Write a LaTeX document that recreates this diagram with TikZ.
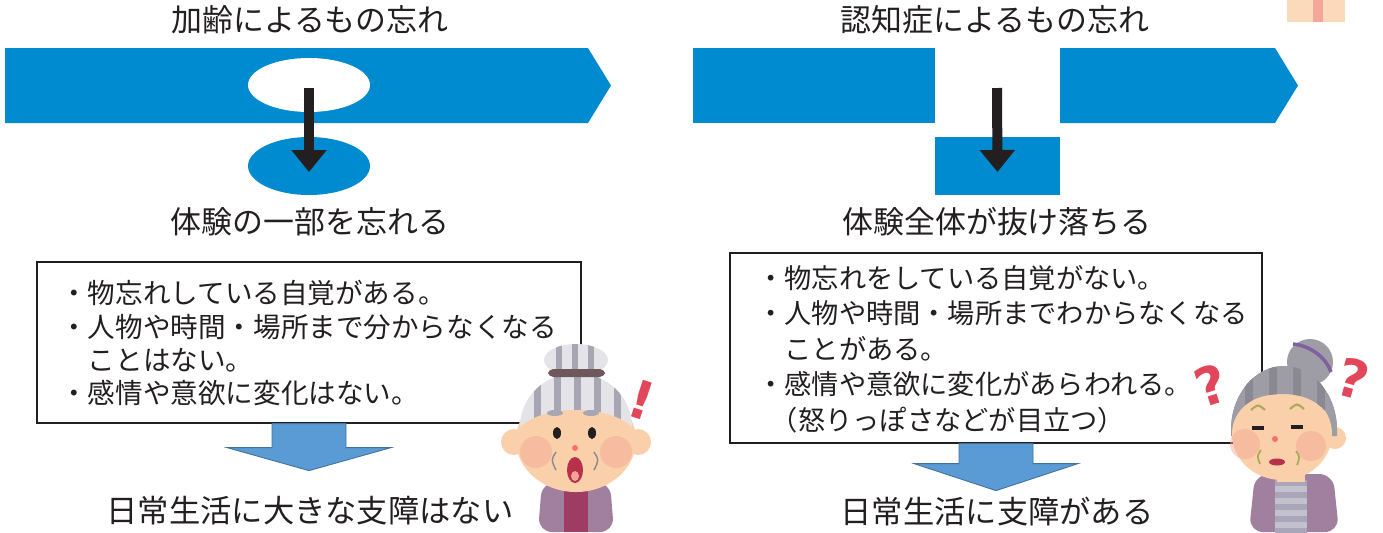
\documentclass[tikz,border=0pt]{standalone}
\usepackage{fontspec}
\setmainfont{Noto Sans CJK JP}
\newfontfamily\markfont{DejaVu Sans}
\usetikzlibrary{arrows.meta,calc,positioning,shapes.geometric}
\definecolor{bandblue}{RGB}{0,139,208}
\definecolor{fatblue}{RGB}{91,155,213}
\definecolor{fatedge}{RGB}{65,113,156}
\definecolor{inkblack}{RGB}{35,31,32}
\definecolor{skin}{RGB}{250,208,170}
\definecolor{blush}{RGB}{244,162,150}
\definecolor{hairlight}{RGB}{228,228,232}
\definecolor{hairgray}{RGB}{168,166,178}
\definecolor{hairdark}{RGB}{158,156,164}
\definecolor{hairstripe}{RGB}{138,136,146}
\definecolor{hairband}{RGB}{110,88,92}
\definecolor{bunband}{RGB}{128,96,160}
\definecolor{cardigan}{RGB}{160,128,158}
\definecolor{shirtred}{RGB}{158,60,100}
\definecolor{shirtgray}{RGB}{168,166,184}
\definecolor{mouthred}{RGB}{184,48,74}
\definecolor{browolive}{RGB}{170,170,90}
\definecolor{markred}{RGB}{226,70,90}

\tikzset{
  title/.style={font=\fontsize{17.6}{21}\selectfont,text=inkblack,inner sep=0pt},
  memo/.style={draw=inkblack,line width=0.7pt,fill=white},
  bullets/.style={font=\fontsize{15.7}{18.8}\selectfont,text=inkblack,align=left,anchor=west,inner sep=0pt},
  band/.style={fill=bandblue},
  downarrow/.style={-{Triangle[width=0.68cm,length=0.44cm]},line width=0.2cm,draw=inkblack},
  fatarrow/.style={fill=fatblue,draw=fatedge,line width=0.5pt},
  marktext/.style={font=\markfont\bfseries\fontsize{30}{30}\selectfont,text=markred,inner sep=0pt},
}

\begin{document}
\begin{tikzpicture}[x=0.02cm,y=-0.02cm]
  \useasboundingbox (0,0) rectangle (1383,532);

  % ===== 左：加齢によるもの忘れ =====
  \node[title] (headL) at (310,20) {加齢によるもの忘れ};
  \fill[band] (5,48) -- (588,48) -- (611,85.5) -- (588,123) -- (5,123) -- cycle;
  \node[ellipse,fill=white,minimum width=2.44cm,minimum height=1.08cm,inner sep=0pt] (ovalTop) at (309,85) {};
  \node[ellipse,fill=bandblue,minimum width=2.44cm,minimum height=1.16cm,inner sep=0pt] (ovalBot) at (309,166) {};
  \draw[downarrow] ($(ovalTop.center)+(0,3)$) -- ($(ovalBot.center)+(0,6)$);
  \node[title] (partL) at (310,222) {体験の一部を忘れる};

  \node[memo,minimum width=10.88cm,minimum height=3.22cm,inner sep=0pt] (boxL) at (309,342.5) {};
  \node[bullets] (textL) at (60,343) {・物忘れしている自覚がある。\\
    ・人物や時間・場所まで分からなくなる\\
    \hspace{1em}ことはない。\\
    ・感情や意欲に変化はない。};
  % 太い下向き矢印
  \draw[fatarrow] ($(boxL.south)+(-37,0)$) -- ++(0,24) -- ++(-45,0)
    -- ($(boxL.south)+(0,47)$) -- ($(boxL.south)+(82,24)$) -- ++(-45,0) -- ++(0,-24) -- cycle;
  \node[title,font=\fontsize{17.8}{21}\selectfont] (lifeL) at (310,511) {日常生活に大きな支障はない};

  % 驚いたおばあさん
  \begin{scope}[shift={(578,440)}]
    \fill[cardigan,rounded corners=8] (-40,92) -- (-36,42) -- (32,42) -- (36,92) -- cycle;
    \fill[shirtred] (-14,44) rectangle (10,92);
    \fill[skin] (-12,36) rectangle (10,50);
    \fill[hairband] (-14,46) -- (10,46) -- (8,50) -- (-12,50) -- cycle;
    \fill[skin] (-64,2) circle (13);
    \fill[skin] (60,2) circle (13);
    \fill[skin] (-2,0) ellipse (60 and 52);
    \fill[blush,opacity=0.45] (-42,12) circle (16);
    \fill[blush,opacity=0.45] (38,12) circle (16);
    % 髪
    \begin{scope}
      \clip (-58,-13) arc[start angle=180,end angle=360,x radius=56,y radius=54]
        .. controls (30,-36) and (-34,-36) .. (-58,-13);
      \fill[hairlight] (-60,-70) rectangle (56,-10);
      \foreach \sx in {-44,-24,-4,16,36}
        \fill[hairgray] (\sx,-70) rectangle ++(7,60);
    \end{scope}
    \begin{scope}
      \clip (-2,-80) ellipse (32 and 16);
      \fill[hairlight] (-36,-98) rectangle (32,-62);
      \foreach \sx in {-22,-6,10}
        \fill[hairgray] (\sx,-98) rectangle ++(6,36);
    \end{scope}
    \fill[hairband,rounded corners=3] (-30,-71) rectangle (27,-63);
    \fill[hairgray] (-23,-27) ellipse (8 and 3);
    \fill[hairgray] (13,-27) ellipse (8 and 3);
    % 顔
    \fill[inkblack] (-21,-7) ellipse (4 and 6);
    \fill[inkblack] (14,-7) ellipse (4 and 6);
    \fill[blush!70!red] (-3,8) circle (3);
    \fill[mouthred] (-3,30) ellipse (8 and 13);
    \fill[blush] (-3,36) ellipse (4 and 5);
    \draw[hairstripe,line width=0.8pt] (-22,12) .. controls (-27,20) .. (-22,30);
    \draw[hairstripe,line width=0.8pt] (16,12) .. controls (21,20) .. (16,30);
    \node[marktext,rotate=-18] (bang) at (64,-40) {!};
  \end{scope}

  % ===== 右：認知症によるもの忘れ =====
  \node[title] (headR) at (995,20) {認知症によるもの忘れ};
  \fill[band] (693,48) rectangle (935,123);
  \fill[band] (1060,48) -- (1275,48) -- (1298,85.5) -- (1275,123) -- (1060,123) -- cycle;
  \node[band,minimum width=2.5cm,minimum height=1.16cm,inner sep=0pt] (gapBox) at (997.5,166) {};
  \coordinate (gapTop) at (997,88);
  \draw[downarrow] (gapTop) -- ($(gapBox.center)+(0,6)$);
  \node[title] (partR) at (997,222) {体験全体が抜け落ちる};

  \node[memo,minimum width=10.64cm,minimum height=3.8cm,inner sep=0pt] (boxR) at (996,348) {};
  \node[bullets,font=\fontsize{15.5}{20.2}\selectfont] (textR) at (757,349) {・物忘れをしている自覚がない。\\
    ・人物や時間・場所までわからなくなる\\
    \hspace{1em}ことがある。\\
    ・感情や意欲に変化があらわれる。\\
    \hspace{0.5em}（怒りっぽさなどが目立つ）};
  \draw[fatarrow] ($(boxR.south)+(-37,0)$) -- ++(0,20) -- ++(-45,0)
    -- ($(boxR.south)+(0,47)$) -- ($(boxR.south)+(82,20)$) -- ++(-45,0) -- ++(0,-20) -- cycle;
  \node[title,font=\fontsize{17.8}{21}\selectfont] (lifeR) at (997,512) {日常生活に支障がある};

  % 困ったおばあさん
  \begin{scope}[shift={(1283,430)}]
    \fill[cardigan,rounded corners=8] (-34,102) -- (-28,44) -- (50,44) -- (56,102) -- cycle;
    \foreach \sy in {50,62,74,86,98}
      \fill[shirtgray] (-8,\sy) rectangle (24,\sy+6);
    \foreach \sy in {56,68,80,92}
      \fill[shirtgray!70!white] (-8,\sy) rectangle (24,\sy+6);
    \fill[skin] (-6,38) rectangle (22,52);
    \fill[skin] (52,8) circle (11);
    % まとめ髪
    \fill[hairdark] (27,-68) circle (23);
    \draw[bunband,line width=2pt] (10,-86) .. controls (30,-84) and (44,-70) .. (48,-58);
    \fill[hairdark] (-52,0) arc[start angle=180,end angle=360,x radius=53,y radius=64]
      -- (54,6) -- (-52,6) -- cycle;
    \fill[skin] (-1,4) ellipse (50 and 46);
    \begin{scope}
      \clip (-52,0) arc[start angle=180,end angle=360,x radius=53,y radius=64]
        .. controls (46,-20) and (30,-36) .. (0,-36)
        .. controls (-30,-36) and (-46,-24) .. (-52,0);
      \fill[hairdark] (-56,-70) rectangle (58,4);
      \foreach \sx in {-38,-14,10,34}
        \fill[hairstripe] (\sx,-70) rectangle ++(8,74);
    \end{scope}
    \fill[blush,opacity=0.45] (-38,14) circle (15);
    \fill[blush,opacity=0.45] (28,16) circle (15);
    % 顔
    \draw[browolive,line width=1.2pt] (-32,-20) .. controls (-25,-26) .. (-18,-20);
    \draw[browolive,line width=1.2pt] (7,-21) .. controls (14,-27) .. (21,-21);
    \draw[inkblack,line width=2pt] (-31,-2) -- (-19,-2);
    \draw[inkblack,line width=2pt] (8,-3) -- (20,-3);
    \fill[blush!70!red] (-8,9) circle (3);
    \fill[mouthred] (-6,32) ellipse (8 and 3.5);
    \draw[browolive,line width=1pt] (-22,20) .. controls (-26,26) .. (-23,34);
    \draw[browolive,line width=1pt] (13,21) .. controls (17,27) .. (14,35);
    \node[marktext,rotate=18] (queryL) at (-72,-45) {?};
    \node[marktext,rotate=-15] (queryR) at (70,-51) {?};
  \end{scope}

  % 右上の切れ端
  \fill[skin,opacity=0.8] (1287,0) rectangle (1345,22);
  \fill[blush,opacity=0.9] (1313,0) rectangle (1323,22);
\end{tikzpicture}
\end{document}
